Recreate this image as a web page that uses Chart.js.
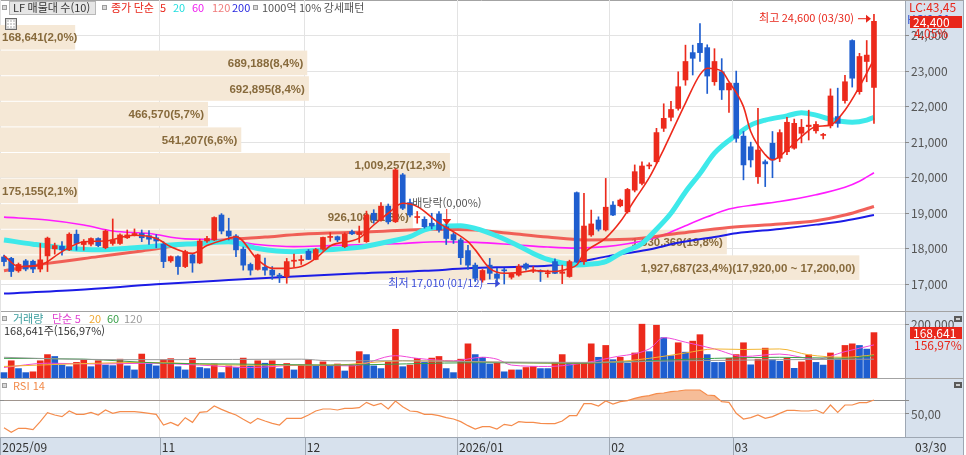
<!DOCTYPE html>
<html lang="ko">
<head>
<meta charset="UTF-8">
<title>LF 매물대</title>
<script src="https://cdn.jsdelivr.net/npm/chart.js"></script>
<style>
* { margin: 0; padding: 0; }
body { width: 966px; height: 455px; background: #fff; overflow: hidden; position: relative; }
.pane { position: absolute; left: 0; width: 966px; }
#pricePane { top: 0; height: 311px; }
#volPane { top: 311px; height: 67px; }
#rsiPane { top: 378px; height: 77px; }
</style>
</head>
<body>
<div class="pane" id="pricePane"><canvas id="priceChart" width="966" height="311"></canvas></div>
<div class="pane" id="volPane"><canvas id="volChart" width="966" height="67"></canvas></div>
<div class="pane" id="rsiPane"><canvas id="rsiChart" width="966" height="77"></canvas></div>
<script>
// daily candles, index 0 = 2025/09 last week ... index 120 = 2026/03/30
const opens = [17770,17730,17380,17660,17650,17430,17800,18000,18070,17970,18410,18120,18130,18290,18030,18150,18150,18310,18390,18430,
  18370,18310,18130,17660,17780,17500,17830,17600,18220,18250,18950,18500,18360,17990,17560,17420,17480,17400,17260,17220,
  17650,17670,17930,17700,17990,18320,18340,18060,18480,18400,18200,19000,18810,19200,18760,20080,19300,18880,18830,18720,
  18980,18620,18400,18250,17950,17540,17120,17540,17290,17400,17200,17260,17570,17380,17360,17300,17640,17310,17220,19580,
  17640,18390,18810,18530,19230,19210,19040,19650,19840,20330,20450,21390,21700,21950,22750,23520,23780,23660,22700,22980,
  22470,22660,21170,20870,20030,20450,20970,20550,20730,20830,21250,21440,21320,21190,21460,21720,22170,23860,22420,23270,22540];
const highs = [17820,17760,17600,17700,17680,18150,18330,18160,18200,18450,18530,18260,18310,18310,18530,18840,18420,18530,18560,18530,
  18510,18400,18200,17800,17800,17960,17860,18270,18350,18900,18990,18860,18400,18050,17600,17850,17740,17500,17310,17730,
  17850,17810,17980,18010,18330,18460,18360,18450,18530,18640,19060,19100,19300,19260,20250,20120,19400,19050,18900,19000,
  19050,18700,18450,18300,18100,17600,17420,17730,17450,17450,17320,17560,17600,17500,17410,17400,17720,17540,17680,19600,
  19560,19090,18900,19980,19330,19400,19700,20360,20450,20420,21390,22080,22150,22980,23730,23730,24340,23740,23630,23350,
  22660,23000,21300,21000,21950,20500,21300,21350,21700,21650,21640,21900,21580,21250,22500,22520,22880,23880,23500,23860,24600];
const lows = [17520,17220,17340,17380,17330,17350,17360,17850,17820,17950,17960,17960,18080,18060,18000,18100,18120,18290,18360,18200,
  18120,18030,17470,17620,17280,17470,17340,17580,18180,18230,18420,18250,17780,17400,17260,17400,17260,17140,17050,17030,
  17480,17560,17700,17690,17960,18210,18200,18030,18400,18180,18180,18720,18780,18700,18740,19100,18900,18720,18580,18560,
  18470,18120,18150,17560,17420,17080,17060,17150,17050,17010,17150,17230,17400,17330,17080,17200,17300,17020,17200,17620,
  17560,18350,18500,18500,18930,19180,19000,19600,19800,20250,20400,21300,21600,21900,22600,22890,23270,22370,22600,22200,
  21840,21000,19940,20300,19840,19750,20000,20450,20650,20800,20980,21060,21250,21090,21400,21420,22100,22550,22350,22700,21530];
const closes = [17640,17360,17560,17430,17430,17690,18300,18090,17970,18410,18150,18200,18290,18090,18500,18250,18390,18390,18430,18310,
  18270,18220,17640,17780,17500,17920,17600,18220,18290,18880,18500,18360,17970,17540,17400,17830,17400,17260,17220,17640,
  17680,17690,17700,17980,18320,18330,18250,18410,18420,18460,18950,18810,19200,18760,20220,19140,18950,18900,18620,18640,
  18530,18290,18250,17750,17540,17170,17390,17310,17170,17380,17290,17500,17450,17390,17350,17320,17310,17350,17640,17640,
  18640,18700,18550,19170,18950,19370,19670,20170,20330,20350,21270,21670,21920,22560,23270,23360,23520,22860,23270,22470,
  22660,21110,20360,20500,20780,20390,20500,21270,21560,21530,21420,21480,21500,21210,22300,21530,22700,22800,23410,23450,24400];
const volumes = [20000,64000,35000,20000,23000,64000,87000,80000,48000,42000,58000,67000,42000,64000,48000,46000,70000,45000,30000,89000,
  52000,45000,68000,72000,42000,30000,74000,39000,35000,52000,20000,45000,39000,74000,45000,64000,55000,64000,35000,54000,
  30000,48000,68000,45000,60000,45000,52000,26000,48000,98000,87000,45000,35000,60000,181000,42000,48000,73000,58000,74000,
  80000,35000,20000,70000,127000,87000,77000,52000,55000,23000,30000,30000,39000,43000,35000,35000,58000,87000,55000,56000,
  57000,127000,77000,121000,68000,77000,55000,93000,200000,98000,196000,150000,83000,131000,96000,137000,161000,87000,58000,58000,
  73000,87000,131000,49000,70000,111000,68000,62000,74000,36000,60000,86000,58000,48000,93000,70000,121000,127000,121000,107435,168641];
const rsi14 = [29.5,22.5,28.5,28.5,26.5,38.5,52,48.5,46,54.5,49.5,49.5,52.5,48.5,56,51,53.5,53.5,53.5,52.5,
  51,49.5,33.5,37.5,32.5,44.5,37.5,52.5,53.5,62,57,52.5,48.5,42,36,43.5,39.5,36,33.5,43.5,
  43.5,43.5,48.5,54.5,57.5,57.5,56,58.5,58.5,59.5,67.5,62.5,66,57.5,69.5,61,54.5,53.5,49.5,49.5,
  47.5,44.5,42.5,38.5,32.5,27.5,31,31,27.5,34.5,32.5,38.5,37.5,37.5,36,35.5,35.5,39.5,47.5,47.5,
  65.5,65.5,62,69.5,65,68.5,70,73.5,76,77.5,80.5,81.5,83.5,84.5,86,86,86,78.5,77.5,68.5,
  67.5,51,42.5,44.5,48.5,43.5,46,51,55.5,55.5,54.5,54.5,56,51,63.5,52.5,63.5,63.5,67,67,71];

// moving averages as [candle index, value]
const ma5 = [[0,17810],[2,17500],[5,17540],[8,17920],[11,18200],[14,18220],[17,18360],[18,18380],[21,18290],[23,18060],
  [26,17870],[28,18090],[31,18290],[32,18340],[35,17690],[37,17450],[39,17450],[41,17500],[43,17730],[45,18080],[49,18300],
  [51,18670],[53,19000],[55,19280],[57,19190],[60,18720],[62,18480],[64,18200],[65,17970],[67,17450],[69,17310],[71,17330],
  [73,17385],[76,17360],[78,17450],[79,17545],[80,17870],[83,18300],[85,18760],[87,19380],[89,20000],[91,20800],[94,22100],
  [96,22900],[97,23080],[99,23000],[100,22700],[102,22000],[103,21300],[105,20650],[106,20500],[108,20780],[110,21155],
  [112,21440],[114,21480],[116,21900],[118,22560],[119,22940],[120,23330]];
const ma20 = [[0,18250],[4,18130],[9,18010],[13,17970],[18,18030],[23,18110],[27,18150],[31,18200],[35,18010],[40,17920],
  [44,17966],[49,18040],[53,18200],[56,18340],[58,18530],[61,18640],[63,18650],[65,18575],[68,18360],[71,18080],[73,17870],
  [75,17700],[77,17600],[79,17545],[81,17570],[83,17640],[85,17870],[88,18150],[90,18550],[92,19000],[94,19600],[96,20120],
  [98,20690],[101,21200],[103,21480],[105,21620],[108,21740],[110,21830],[112,21760],[114,21640],[117,21560],[119,21620],[120,21700]];
const ma60 = [[0,18890],[6,18810],[11,18670],[15,18500],[20,18430],[25,18280],[30,18260],[35,18120],[40,18060],[45,18090],
  [50,18120],[55,18150],[60,18200],[65,18180],[70,18120],[75,18050],[79,18020],[83,18060],[86,18140],[89,18260],[91,18390],
  [94,18650],[97,18900],[100,19120],[104,19250],[107,19330],[112,19520],[116,19730],[118,19900],[120,20140]];
const ma120 = [[0,17380],[6,17590],[13,17780],[19,17940],[25,18120],[31,18260],[36,18330],[41,18410],[50,18470],[59,18550],
  [65,18530],[70,18430],[75,18330],[80,18250],[86,18266],[93,18435],[100,18600],[107,18700],[112,18790],[116,18950],[120,19190]];
const ma200 = [[0,16740],[10,16840],[21,17000],[31,17120],[40,17220],[49,17310],[58,17380],[64,17450],[71,17497],[76,17540],
  [79,17620],[83,17780],[86,17880],[89,17980],[93,18170],[98,18330],[101,18440],[107,18560],[112,18680],[116,18790],[120,18950]];

const vma5 = [[0,39000],[6,55000],[13,52000],[20,55000],[27,48000],[34,39000],[41,48000],[48,45000],[54,83000],[57,73000],
  [62,64000],[66,77000],[68,70000],[70,48000],[75,43000],[79,52000],[84,77000],[89,108000],[91,150000],[94,133000],[98,108000],
  [102,80000],[107,89000],[112,70000],[116,98000],[120,123000]];
const vma20 = [[0,43000],[9,52000],[20,58000],[32,48000],[45,48000],[55,64000],[66,60000],[75,55000],[84,60000],[89,73000],
  [94,93000],[98,108000],[102,106000],[107,108000],[111,86000],[116,77000],[120,86000]];
const vma60 = [[0,73000],[11,70000],[22,55000],[32,52000],[45,48000],[66,57000],[80,55000],[89,64000],[98,73000],[107,77000],
  [116,73000],[120,83000]];
const vma120 = [[0,77000],[9,70000],[22,68000],[41,70000],[45,64000],[55,64000],[66,60000],[80,58000],[94,64000],[107,68000],[120,70000]];

// 매물대 (volume by price), bottom band first
const profileLow = [17110,17830,18550,19270,19990,20710,21430,22150,22870,23590];
const profileStep = 720;
const profileVol = [1927687,1630369,926108,175155,1009257,541207,466570,692895,689188,168641];
const profilePct = [23.4,19.8,11.3,2.1,12.3,6.6,5.7,8.4,8.4,2.0];
const pocRange = [17920, 17200];

const priceTicks = [17000,18000,19000,20000,21000,22000,23000,24000];
const volTicks = [200000];
const rsiTicks = [50, 70];
const monthStarts = [0, 22, 42, 63, 84, 101];
const monthLabels = ['2025/09', '11', '12', '2026/01', '02', '03'];
const lastDate = '03/30';
const highDate = '03/30', lowDate = '01/12';
const exDivIdx = 61;

const RED = '#ec2a1c', BLUE = '#1f5ecf';
const FONT = '"Noto Sans CJK KR", "Noto Sans", sans-serif';
const SIDE = '#d7e1ed';
const xMin = -0.55, xMax = 124.28;

const fmt = v => v.toLocaleString('en-US');
const pairs = arr => arr.map(([x, y]) => ({ x, y }));
const candleColor = opens.map((o, i) => closes[i] >= o ? RED : BLUE);
const volColor = volumes.map((v, i) => i > 0 && v > volumes[i - 1] ? RED : BLUE);
const monthGrid = monthStarts.map(i => i - 0.5);

function fixY(s) { s.width = 61; s.paddingTop = 0; s.paddingBottom = 0; }
function xScale(extra) {
  return Object.assign({
    type: 'linear', min: xMin, max: xMax, offset: false,
    afterBuildTicks: s => { s.ticks = monthGrid.map(v => ({ value: v })); },
    grid: { color: '#e3e3e3', drawTicks: false, offset: false },
    border: { display: false },
    ticks: { display: false },
    afterFit: s => { s.height = 0; s.paddingLeft = 0; s.paddingRight = 0; }
  }, extra);
}
function yTicks(values) {
  return s => { s.ticks = values.map(v => ({ value: v })); };
}
function lineSet(data, color, width, order) {
  return { type: 'line', data: pairs(data), borderColor: color, borderWidth: width, pointRadius: 0,
    cubicInterpolationMode: 'monotone', fill: false, order: order, xAxisID: 'x', yAxisID: 'y' };
}
const baseOptions = {
  responsive: false, animation: false, events: [],
  layout: { padding: 0 },
  plugins: { legend: { display: false }, tooltip: { enabled: false } }
};

function sideColumn(chart) {
  const { ctx, chartArea: a, height } = chart;
  ctx.save();
  ctx.fillStyle = SIDE;
  ctx.fillRect(a.right, 0, 963 - a.right, height);
  ctx.strokeStyle = '#9ea7b3';
  ctx.lineWidth = 1;
  ctx.beginPath();
  ctx.moveTo(a.right + 0.5, 0); ctx.lineTo(a.right + 0.5, height);
  ctx.moveTo(963.5, 0); ctx.lineTo(963.5, height);
  ctx.stroke();
  ctx.strokeStyle = '#a3a3a3';
  ctx.beginPath(); ctx.moveTo(0, 0.5); ctx.lineTo(963, 0.5); ctx.stroke();
  ctx.restore();
}
function bullet(ctx, x, y) {
  ctx.fillStyle = '#9c9c9c';
  ctx.fillRect(x, y - 3, 5, 5);
  ctx.fillStyle = '#d8d8d8';
  ctx.fillRect(x + 1, y - 2, 3, 3);
}
function texts(ctx, y, items) {
  items.forEach(([t, x, c]) => { ctx.fillStyle = c; ctx.fillText(t, x, y); });
}
function valueBox(ctx, y, text) {
  ctx.fillStyle = '#e8261a';
  ctx.fillRect(910, y - 6, 52, 12);
  ctx.fillStyle = '#fff';
  ctx.fillText(text, 913, y);
}
function miniIcon(ctx, x, y) {
  ctx.fillStyle = '#5a5a5a';
  ctx.fillRect(x, y, 8, 6);
  ctx.fillStyle = '#cfcfcf';
  ctx.fillRect(x + 2, y + 2, 4, 2);
}
function arrow(ctx, x0, x1, y, color) {
  ctx.strokeStyle = color; ctx.fillStyle = color; ctx.lineWidth = 1;
  ctx.beginPath(); ctx.moveTo(x0, y + 0.5); ctx.lineTo(x1 - 3, y + 0.5); ctx.stroke();
  ctx.beginPath(); ctx.moveTo(x1, y + 0.5); ctx.lineTo(x1 - 5, y - 3.5); ctx.lineTo(x1 - 5, y + 4.5); ctx.closePath(); ctx.fill();
}

// ---------- price pane ----------
const pricePlugin = {
  id: 'pricePlugin',
  beforeDraw: sideColumn,
  beforeDatasetsDraw(chart) {
    const { ctx } = chart, y = chart.scales.y, xp = chart.scales.xp;
    const poc = profileVol.indexOf(Math.max(...profileVol));
    ctx.save();
    ctx.font = 'bold 11.5px "Liberation Sans", sans-serif';
    ctx.textBaseline = 'middle';
    ctx.textAlign = 'right';
    profileLow.forEach((low, k) => {
      const top = y.getPixelForValue(low + profileStep);
      const bot = y.getPixelForValue(low);
      const x0 = xp.getPixelForValue(0), x1 = xp.getPixelForValue(profileVol[k]);
      ctx.fillStyle = '#f5e8d6';
      ctx.fillRect(x0, top + 0.5, x1 - x0, bot - top - 1);
      let label = fmt(profileVol[k]) + '(' + profilePct[k].toFixed(1).replace('.', ',') + '%)';
      if (k === poc) label += '(' + fmt(pocRange[0]) + ',00 ~ ' + fmt(pocRange[1]) + ',00)';
      const w = ctx.measureText(label).width;
      ctx.fillStyle = '#876a3c';
      ctx.fillText(label, Math.max(x1 - 4, w + 2), (top + bot) / 2 + 1);
    });
    ctx.restore();
  },
  afterDatasetsDraw(chart) {
    const { ctx } = chart, x = chart.scales.x, y = chart.scales.y;
    ctx.save();
    ctx.font = '11px ' + FONT;
    ctx.textBaseline = 'middle';
    // highest / lowest
    const hi = highs.indexOf(Math.max(...highs));
    const lo = lows.indexOf(Math.min(...lows));
    const xh = x.getPixelForValue(hi), yh = y.getPixelForValue(highs[hi]) + 4;
    arrow(ctx, xh - 16, xh - 3, yh, '#e8261a');
    ctx.textAlign = 'right';
    ctx.fillStyle = '#e8261a';
    ctx.fillText('최고 ' + fmt(highs[hi]) + ' (' + highDate + ')', xh - 20, yh);
    const xl = x.getPixelForValue(lo), yl = y.getPixelForValue(lows[lo]) - 1;
    arrow(ctx, xl - 17, xl - 4, yl, '#3a4cd8');
    ctx.fillStyle = '#3a4cd8';
    ctx.fillText('최저 ' + fmt(lows[lo]) + ' (' + lowDate + ')', xl - 21, yl);
    // ex-dividend marker
    const xd = x.getPixelForValue(exDivIdx), yd = y.getPixelForValue(highs[exDivIdx]) + 1;
    ctx.strokeStyle = '#e8261a'; ctx.fillStyle = '#e8261a'; ctx.lineWidth = 1;
    ctx.beginPath(); ctx.moveTo(xd + 0.5, yd - 16); ctx.lineTo(xd + 0.5, yd - 6); ctx.stroke();
    ctx.beginPath(); ctx.moveTo(xd - 4, yd - 6); ctx.lineTo(xd + 5, yd - 6); ctx.lineTo(xd + 0.5, yd); ctx.closePath(); ctx.fill();
    ctx.textAlign = 'left';
    ctx.fillStyle = '#555';
    ctx.fillText('배당락(0,00%)', xd - 34, yd - 22);
    ctx.restore();
  },
  afterDraw(chart) {
    const { ctx } = chart;
    ctx.save();
    ctx.textBaseline = 'middle';
    ctx.font = '11px ' + FONT;
    bullet(ctx, 2, 8);
    ctx.fillStyle = '#e6e6e6';
    ctx.fillRect(9.5, 1.5, 86, 13);
    ctx.strokeStyle = '#b8b8b8';
    ctx.strokeRect(9.5, 1.5, 86, 13);
    texts(ctx, 8, [['LF 매물대 수(10)', 13, '#333']]);
    bullet(ctx, 102, 8);
    texts(ctx, 8, [['종가 단순', 111, '#e8261a'], ['5', 160, '#e8261a'], ['20', 173, '#22dede'],
      ['60', 192, '#f020f0'], ['120', 212, '#f07a7a'], ['200', 232, '#2a2ae0']]);
    bullet(ctx, 253, 8);
    texts(ctx, 8, [['1000억 10% 강세패턴', 262, '#555']]);
    // table icon
    ctx.fillStyle = '#d4d4d4';
    ctx.fillRect(5.5, 18.5, 11, 11);
    ctx.strokeStyle = '#6a6a6a';
    ctx.strokeRect(5.5, 18.5, 11, 11);
    ctx.strokeStyle = '#fff';
    ctx.beginPath();
    ctx.moveTo(7, 22.5); ctx.lineTo(15, 22.5); ctx.moveTo(7, 25.5); ctx.lineTo(15, 25.5);
    ctx.moveTo(9.5, 20); ctx.lineTo(9.5, 28); ctx.moveTo(12.5, 20); ctx.lineTo(12.5, 28);
    ctx.stroke();
    // right side values
    ctx.font = '12px ' + FONT;
    texts(ctx, 7, [['LC:43,45', 909, '#e8261a']]);
    texts(ctx, 19, [['HC:0,01', 907, '#3d5bd0']]);
    valueBox(ctx, 22, fmt(closes[closes.length - 1]));
    const chg = (closes[closes.length - 1] / closes[closes.length - 2] - 1) * 100;
    texts(ctx, 33, [[chg.toFixed(2).replace('.', ',') + '%', 914, '#e8261a']]);
    ctx.restore();
  }
};

new Chart(document.getElementById('priceChart'), {
  type: 'line',
  data: {
    datasets: [
      lineSet(ma5, '#ee2a1c', 1.6, 0),
      { type: 'bar', data: opens.map((o, i) => ({ x: i, y: [o, closes[i]] })), backgroundColor: candleColor,
        barThickness: 5, minBarLength: 1, grouped: false, order: 1, xAxisID: 'x', yAxisID: 'y' },
      { type: 'bar', data: lows.map((l, i) => ({ x: i, y: [l, highs[i]] })), backgroundColor: candleColor,
        barThickness: 1, grouped: false, order: 2, xAxisID: 'x', yAxisID: 'y' },
      lineSet(ma20, '#3ee9ea', 5, 3),
      lineSet(ma120, 'rgba(240,80,72,0.9)', 3, 4),
      lineSet(ma60, '#ff1cff', 1.6, 5),
      lineSet(ma200, '#1c1ce6', 2, 6)
    ]
  },
  options: Object.assign({}, baseOptions, {
    scales: {
      x: xScale(),
      xp: { type: 'linear', display: false, min: 0, max: 2030000 },
      y: {
        type: 'linear', position: 'right', min: 16250, max: 25000,
        afterBuildTicks: yTicks(priceTicks), afterFit: fixY,
        grid: { color: '#e3e3e3', tickLength: 4, tickColor: '#8a8a8a' },
        border: { display: false },
        ticks: { color: '#555', font: { family: FONT, size: 12 }, padding: 2, callback: v => fmt(v) }
      }
    }
  }),
  plugins: [pricePlugin]
});

// ---------- volume pane ----------
const volPlugin = {
  id: 'volPlugin',
  beforeDraw: sideColumn,
  afterDraw(chart) {
    const { ctx } = chart;
    ctx.save();
    ctx.textBaseline = 'middle';
    ctx.font = '11px ' + FONT;
    bullet(ctx, 2, 8);
    texts(ctx, 8, [['거래량', 13, '#3a9c9c'], ['단순 5', 52, '#e040d0'], ['20', 89, '#f0a830'],
      ['60', 107, '#3aa04a'], ['120', 124, '#9a9a9a']]);
    const last = volumes[volumes.length - 1], prev = volumes[volumes.length - 2];
    const pct = (last / prev * 100).toFixed(2).replace('.', ',');
    texts(ctx, 20, [[fmt(last) + '주(' + pct + '%)', 4, '#333']]);
    ctx.font = '12px ' + FONT;
    valueBox(ctx, 22, fmt(last));
    texts(ctx, 34, [[pct + '%', 914, '#e8261a']]);
    miniIcon(ctx, 954, 5);
    ctx.restore();
  }
};

new Chart(document.getElementById('volChart'), {
  type: 'line',
  data: {
    datasets: [
      { type: 'bar', data: volumes.map((v, i) => ({ x: i, y: v })), backgroundColor: volColor,
        barThickness: 6, grouped: false, order: 1, xAxisID: 'x', yAxisID: 'y' },
      lineSet(vma120, '#9a9a9a', 1, 0),
      lineSet(vma60, '#3aa04a', 1, 0),
      lineSet(vma20, '#f2b531', 1, 0),
      lineSet(vma5, '#f04ad8', 1, 0)
    ]
  },
  options: Object.assign({}, baseOptions, {
    scales: {
      x: xScale(),
      y: {
        type: 'linear', position: 'right', min: 0, max: 249000,
        afterBuildTicks: yTicks(volTicks), afterFit: fixY,
        grid: { color: '#e3e3e3', tickLength: 4, tickColor: '#8a8a8a' },
        border: { display: false },
        ticks: { color: '#555', font: { family: FONT, size: 12 }, padding: 2, callback: v => fmt(v) }
      }
    }
  }),
  plugins: [volPlugin]
});

// ---------- RSI pane + date axis ----------
const rsiPlugin = {
  id: 'rsiPlugin',
  beforeDraw(chart) {
    sideColumn(chart);
    const { ctx, chartArea: a, height } = chart;
    ctx.save();
    ctx.fillStyle = SIDE;
    ctx.fillRect(0, a.bottom, 963, height - a.bottom);
    ctx.restore();
  },
  afterDraw(chart) {
    const { ctx, chartArea: a, height } = chart, x = chart.scales.x;
    ctx.save();
    ctx.strokeStyle = '#9ea7b3';
    ctx.lineWidth = 1;
    ctx.beginPath();
    ctx.moveTo(0, a.bottom + 0.5); ctx.lineTo(963, a.bottom + 0.5);
    monthGrid.forEach(v => {
      const px = Math.round(x.getPixelForValue(v)) + 0.5;
      ctx.moveTo(px, a.bottom); ctx.lineTo(px, height);
    });
    ctx.stroke();
    ctx.textBaseline = 'middle';
    ctx.font = '11px ' + FONT;
    bullet(ctx, 2, 8);
    texts(ctx, 8, [['RSI 14', 13, '#f28a4a']]);
    ctx.font = '12px ' + FONT;
    texts(ctx, a.bottom + 10, [[lastDate, 915, '#333']]);
    miniIcon(ctx, 954, 4);
    ctx.restore();
  }
};

new Chart(document.getElementById('rsiChart'), {
  type: 'line',
  data: {
    datasets: [{
      type: 'line', data: rsi14.map((v, i) => ({ x: i, y: v })), borderColor: '#f58c4c', borderWidth: 1.2,
      pointRadius: 0, tension: 0,
      fill: { target: { value: 70 }, above: '#f6bd98', below: 'rgba(0,0,0,0)' },
      xAxisID: 'x', yAxisID: 'y'
    }]
  },
  options: Object.assign({}, baseOptions, {
    scales: {
      x: xScale({
        ticks: { display: true, align: 'start', autoSkip: false, maxRotation: 0, labelOffset: 2, padding: 3,
          color: '#333', font: { family: FONT, size: 12 }, callback: (v, i) => monthLabels[i] },
        afterFit: s => { s.height = 18; s.paddingLeft = 0; s.paddingRight = 0; }
      }),
      y: {
        type: 'linear', position: 'right', min: 15.5, max: 104,
        afterBuildTicks: yTicks(rsiTicks), afterFit: fixY,
        grid: { color: c => c.tick && c.tick.value === 70 ? '#8c8c8c' : '#e3e3e3', tickLength: 4, tickColor: '#8a8a8a' },
        border: { display: false },
        ticks: { color: '#555', font: { family: FONT, size: 12 }, padding: 2, callback: v => v === 50 ? '50,00' : '' }
      }
    }
  }),
  plugins: [rsiPlugin]
});
</script>
</body>
</html>
